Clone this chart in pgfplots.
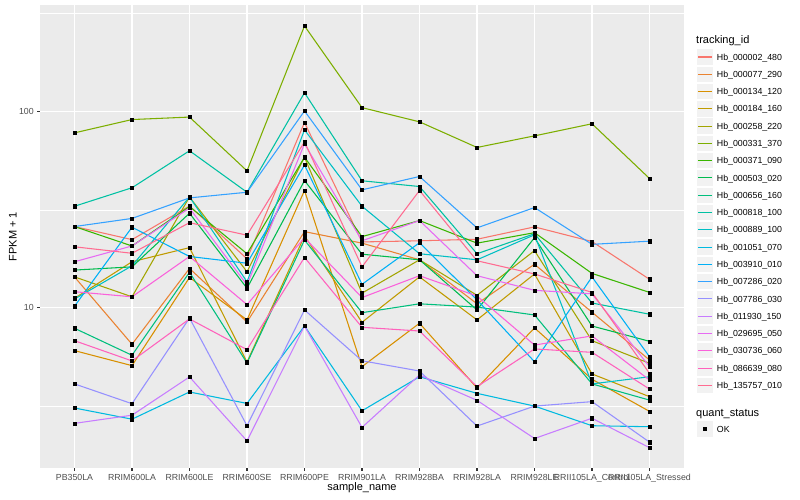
\documentclass[border=0pt]{standalone}
\usepackage{fontspec}
\setmainfont{Liberation Sans}
\usepackage{pgfplots}
\usepackage{pgfplotstable}
\pgfplotsset{compat=1.18}

% ggplot hue palette, 20 series
\definecolor{c1}{HTML}{F8766D}
\definecolor{c2}{HTML}{EA8331}
\definecolor{c3}{HTML}{D89000}
\definecolor{c4}{HTML}{C09B00}
\definecolor{c5}{HTML}{A3A500}
\definecolor{c6}{HTML}{7CAE00}
\definecolor{c7}{HTML}{39B600}
\definecolor{c8}{HTML}{00BB4E}
\definecolor{c9}{HTML}{00BF7D}
\definecolor{c10}{HTML}{00C1A3}
\definecolor{c11}{HTML}{00BFC4}
\definecolor{c12}{HTML}{00BAE0}
\definecolor{c13}{HTML}{00B0F6}
\definecolor{c14}{HTML}{35A2FF}
\definecolor{c15}{HTML}{9590FF}
\definecolor{c16}{HTML}{C77CFF}
\definecolor{c17}{HTML}{E76BF3}
\definecolor{c18}{HTML}{FA62DB}
\definecolor{c19}{HTML}{FF62BC}
\definecolor{c20}{HTML}{FF6C91}
\definecolor{ggpanel}{HTML}{EBEBEB}
\definecolor{ggkey}{HTML}{F2F2F2}
\definecolor{ggtext}{HTML}{4D4D4D}
\definecolor{ggtick}{HTML}{333333}

% FPKM + 1 per sample (x = sample index), one column per tracking_id
\pgfplotstableread{
x  s1   s2   s3   s4   s5   s6   s7   s8   s9   s10  s11  s12  s13  s14  s15  s16  s17  s18  s19  s20
0  26.0 14.4 6.06 11.2 14.4 78.1 26.0 15.6 7.88 33.0 11.1 3.09 10.2 26.0 4.10 2.58 17.2 12.1 6.81 20.5
1  22.3 6.53 5.08 17.2 11.4 91.3 20.7 16.2 5.74 41.0 16.4 2.71 25.8 28.6 3.25 2.84 20.7 11.4 5.37 19.0
2  33.1 15.9 14.3 20.3 36.8 94.0 32.9 30.4 15.2 63.3 36.8 3.73 18.3 36.4 8.89 4.45 32.3 18.3 8.79 27.2
3  17.8 8.48 8.69 5.30 15.3 50.0 18.9 12.6 5.24 38.9 13.6 3.26 16.9 38.9 2.51 2.10 13.1 10.4 6.13 23.5
4  88.2 24.5 39.7 23.3 58.7 274  58.7 44.6 22.2 125  80.9 8.09 53.5 101  9.77 8.09 68.7 22.8 18.1 70.3
5  21.7 21.4 5.02 8.45 11.9 105  23.1 18.8 9.46 44.5 33.0 2.99 13.2 40.0 5.38 2.46 22.0 11.3 7.97 16.2
6  22.0 17.6 8.36 14.4 17.6 88.9 27.9 17.6 10.5 41.6 18.9 4.46 21.5 46.8 4.77 4.55 27.9 14.6 7.63 39.7
7  22.4 10.5 3.91 8.69 11.6 65.8 21.4 9.77 10.1 18.9 17.6 3.67 11.0 25.6 2.50 3.38 14.6 11.5 3.97 17.4
8  25.9 16.7 7.91 14.9 19.6 75.4 24.2 22.8 9.21 23.9 23.6 3.16 5.32 32.5 3.16 2.16 12.3 6.47 6.18 14.9
9  21.8 9.51 4.33 4.61 6.81 86.9 15.0 8.09 4.10 10.6 4.10 2.51 14.4 21.1 3.33 2.74 11.8 7.20 5.94 12.0
10 14.0 5.43 2.97 3.53 5.22 45.7 12.0 6.76 3.39 9.29 4.46 2.48 5.64 21.9 2.07 1.94 5.02 4.29 3.86 4.64
}\fpkm

\begin{document}
\begin{tikzpicture}
\path[use as bounding box] (-40pt,-32pt) rectangle (760pt,468pt);
\begin{axis}[
  at={(0pt,0pt)}, anchor=south west,
  scale only axis, width=644pt, height=463.3pt,
  ymode=log, ymin=1.528, ymax=351.6,
  xmin=-0.6, xmax=10.6,
  xtick={0,...,10},
  xticklabels={PB350LA,RRIM600LA,RRIM600LE,RRIM600SE,RRIM600PE,RRIM901LA,RRIM928BA,RRIM928LA,RRIM928LE,RRII105LA\_Control,RRII105LA\_Stressed},
  ytick={10,100}, yticklabels={10,100},
  minor ytick={3.1623,31.623,316.23},
  grid=both,
  major grid style={white, line width=1.07pt},
  minor grid style={white, line width=0.53pt},
  axis background/.style={fill=ggpanel},
  axis x line*=bottom, axis y line*=left,
  axis line style={draw=none},
  tick align=outside,
  major tick length=2.75pt, minor tick length=0pt,
  tick style={ggtick, line width=1.07pt},
  tick label style={font=\fontsize{8.8}{10}\selectfont, text=ggtext},
]
\pgfplotsinvokeforeach{1,...,20}{
  \addplot[c#1, line width=1.07pt, no markers] table[x=x, y=s#1] {\fpkm};
}
\pgfplotsinvokeforeach{1,...,20}{
  \addplot[only marks, mark=square*, mark size=1.6pt, black] table[x=x, y=s#1] {\fpkm};
}
\end{axis}

% axis titles
\node[anchor=base, font=\fontsize{11}{13}\selectfont] at (322pt,-23pt) {sample\_name};
\node[anchor=base, rotate=90, font=\fontsize{11}{13}\selectfont] at (-23.3pt,231.5pt) {FPKM + 1};

% legend: tracking_id
\node[anchor=base west, inner sep=0, font=\fontsize{11}{13}\selectfont] at (656pt,424pt) {tracking\_id};
\foreach \i/\n in {1/000002\_480,2/000077\_290,3/000134\_120,4/000184\_160,5/000258\_220,
  6/000331\_370,7/000371\_090,8/000503\_020,9/000656\_160,10/000818\_100,
  11/000889\_100,12/001051\_070,13/003910\_010,14/007286\_020,15/007786\_030,
  16/011930\_150,17/029695\_050,18/030736\_060,19/086639\_080,20/135757\_010}{
  \pgfmathsetmacro\yc{411-(\i-1)*17.28}
  \fill[ggkey] (657.3pt,\yc pt-7.7pt) rectangle (672.7pt,\yc pt+7.7pt);
  \draw[c\i, line width=1.07pt] (658pt,\yc pt) -- (672pt,\yc pt);
  \node[anchor=base west, inner sep=0, font=\fontsize{8.8}{10}\selectfont] at (676.7pt,\yc pt-3.15pt) {Hb\_\n};
}

% legend: quant_status
\node[anchor=base west, inner sep=0, font=\fontsize{11}{13}\selectfont] at (656pt,51.5pt) {quant\_status};
\fill[ggkey] (657.3pt,31.3pt) rectangle (672.7pt,46.7pt);
\fill[black] (663pt,37pt) rectangle (667pt,41pt);
\node[anchor=base west, inner sep=0, font=\fontsize{8.8}{10}\selectfont] at (676.7pt,35.85pt) {OK};
\end{tikzpicture}
\end{document}
